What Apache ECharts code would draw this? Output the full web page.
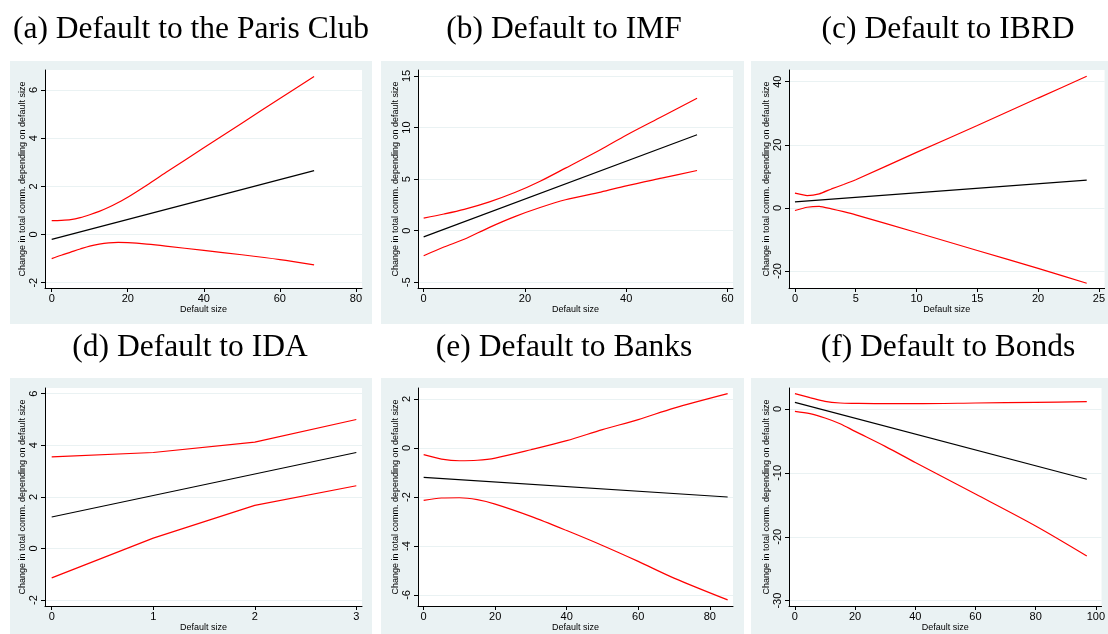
<!DOCTYPE html>
<html>
<head>
<meta charset="utf-8">
<script src="https://cdn.jsdelivr.net/npm/echarts@6/dist/echarts.min.js"></script>
<style>
html,body{margin:0;padding:0;background:#fff;}
#c{width:1108px;height:634px;}
</style>
</head>
<body>
<div id="c"></div>
<script>
// ---- Data ----
// (a) Paris Club
const parisFitX = [0, 69];
const parisFit = [-0.2, 2.65];
const parisBandX = [0, 2.5, 5, 7.5, 10, 12.5, 15, 17.5, 20, 25, 30, 40, 50, 60, 69];
const parisUpper = [0.58, 0.59, 0.62, 0.7, 0.82, 0.96, 1.13, 1.33, 1.55, 2.05, 2.57, 3.6, 4.62, 5.65, 6.56];
const parisLower = [-1.0, -0.86, -0.73, -0.6, -0.48, -0.4, -0.35, -0.33, -0.34, -0.4, -0.48, -0.66, -0.84, -1.04, -1.26];
const parisXTicks = [0, 20, 40, 60, 80];
const parisYTicks = [-2, 0, 2, 4, 6];

// (b) IMF
const imfFitX = [0, 54];
const imfFit = [-0.6, 9.3];
const imfBandX = [0, 4, 8, 13, 18, 23, 28, 35, 40, 47, 54];
const imfUpper = [1.23, 1.62, 2.07, 2.8, 3.7, 4.8, 6.07, 7.88, 9.26, 11.05, 12.84];
const imfLower = [-2.42, -1.58, -0.83, 0.33, 1.37, 2.25, 3.0, 3.75, 4.35, 5.1, 5.84];
const imfXTicks = [0, 20, 40, 60];
const imfYTicks = [-5, 0, 5, 10, 15];

// (c) IBRD
const ibrdFitX = [0, 24];
const ibrdFit = [1.9, 8.8];
const ibrdBandX = [0, 1, 2, 3, 4, 5, 10, 15, 20, 24];
const ibrdUpper = [4.66, 3.9, 4.44, 6.0, 7.4, 8.9, 17.6, 26.1, 34.8, 41.7];
const ibrdLower = [-0.85, 0.2, 0.5, -0.3, -1.2, -2.2, -7.8, -13.5, -19.2, -23.9];
const ibrdXTicks = [0, 5, 10, 15, 20, 25];
const ibrdYTicks = [-20, 0, 20, 40];

// (d) IDA
const idaFitX = [0, 3];
const idaFit = [1.22, 3.72];
const idaBandX = [0, 1, 2, 3];
const idaUpper = [3.55, 3.72, 4.12, 5.0];
const idaLower = [-1.14, 0.4, 1.67, 2.43];
const idaXTicks = [0, 1, 2, 3];
const idaYTicks = [-2, 0, 2, 4, 6];

// (e) Banks
const banksFitX = [0, 85];
const banksFit = [-1.2, -2.0];
const banksBandX = [0, 5, 10, 15, 20, 30, 40, 50, 60, 70, 85];
const banksUpper = [-0.27, -0.45, -0.52, -0.5, -0.41, -0.07, 0.3, 0.75, 1.16, 1.63, 2.22];
const banksLower = [-2.14, -2.04, -2.03, -2.11, -2.29, -2.79, -3.37, -3.98, -4.63, -5.31, -6.2];
const banksXTicks = [0, 20, 40, 60, 80];
const banksYTicks = [-6, -4, -2, 0, 2];

// (f) Bonds
const bondsFitX = [0, 97];
const bondsFit = [1.05, -11.0];
const bondsBandX = [0, 5, 10, 15, 20, 30, 40, 60, 80, 97];
const bondsUpper = [2.4, 1.78, 1.2, 0.94, 0.89, 0.84, 0.84, 0.94, 1.05, 1.15];
const bondsLower = [-0.37, -0.73, -1.41, -2.3, -3.5, -5.85, -8.36, -13.3, -18.3, -23.0];
const bondsXTicks = [0, 20, 40, 60, 80, 100];
const bondsYTicks = [-30, -20, -10, 0];

const titles = ['(a) Default to the Paris Club', '(b) Default to IMF', '(c) Default to IBRD',
                '(d) Default to IDA', '(e) Default to Banks', '(f) Default to Bonds'];
const yTitle = 'Change in total comm. depending on default size';
const xTitle = 'Default size';

// ---- Layout ----
const panels = [
  {fitX: parisFitX, fit: parisFit, bx: parisBandX, up: parisUpper, lo: parisLower, xt: parisXTicks, yt: parisYTicks,
   xr: [-1.76, 81.6], yr: [-2.22, 6.83], grid: [45, 70, 317, 218], bg: [10, 61, 362, 263], tc: [191, 14], smooth: 0.3},
  {fitX: imfFitX, fit: imfFit, bx: imfBandX, up: imfUpper, lo: imfLower, xt: imfXTicks, yt: imfYTicks,
   xr: [-1.12, 61.1], yr: [-5.55, 15.58], grid: [418, 70, 315, 218], bg: [381, 61, 363, 263], tc: [564, 14], smooth: 0.3},
  {fitX: ibrdFitX, fit: ibrdFit, bx: ibrdBandX, up: ibrdUpper, lo: ibrdLower, xt: ibrdXTicks, yt: ibrdYTicks,
   xr: [-0.49, 25.47], yr: [-25.4, 43.7], grid: [789, 70, 316, 218], bg: [751, 61, 357, 263], tc: [948, 14], smooth: 0.15},
  {fitX: idaFitX, fit: idaFit, bx: idaBandX, up: idaUpper, lo: idaLower, xt: idaXTicks, yt: idaYTicks,
   xr: [-0.066, 3.056], yr: [-2.23, 6.22], grid: [45, 388, 317, 218], bg: [10, 378, 362, 256], tc: [190, 332], smooth: false},
  {fitX: banksFitX, fit: banksFit, bx: banksBandX, up: banksUpper, lo: banksLower, xt: banksXTicks, yt: banksYTicks,
   xr: [-1.58, 86.5], yr: [-6.45, 2.45], grid: [418, 388, 315, 218], bg: [381, 378, 363, 256], tc: [564, 332], smooth: 0.3},
  {fitX: bondsFitX, fit: bondsFit, bx: bondsBandX, up: bondsUpper, lo: bondsLower, xt: bondsXTicks, yt: bondsYTicks,
   xr: [-1.97, 101.9], yr: [-30.84, 3.29], grid: [789, 388, 316, 218], bg: [751, 378, 357, 256], tc: [948, 332], smooth: 0.3}
];

const BG = '#eaf2f3';
const pairs = (xs, ys) => xs.map((x, i) => [x, ys[i]]);

const option = {
  animation: false,
  backgroundColor: '#ffffff',
  title: [],
  graphic: [],
  grid: [],
  xAxis: [],
  yAxis: [],
  series: []
};

panels.forEach((p, i) => {
  option.graphic.push({
    type: 'rect', z: -10, silent: true,
    shape: {x: p.bg[0], y: p.bg[1], width: p.bg[2], height: p.bg[3]},
    style: {fill: BG}
  });
  option.title.push({
    text: titles[i], left: p.tc[0], top: p.tc[1], textAlign: 'center', padding: 0,
    textStyle: {fontFamily: 'Liberation Serif', fontSize: 31.5, fontWeight: 'normal', color: '#000', lineHeight: 31}
  });
  option.grid.push({
    left: p.grid[0], top: p.grid[1], width: p.grid[2], height: p.grid[3],
    show: true, backgroundColor: '#ffffff', borderWidth: 0, containLabel: false
  });
  option.xAxis.push({
    type: 'value', gridIndex: i, min: p.xr[0], max: p.xr[1],
    name: xTitle, nameLocation: 'middle', nameGap: 15,
    nameTextStyle: {fontFamily: 'Liberation Sans', fontSize: 9, color: '#000'},
    axisLine: {onZero: false, lineStyle: {color: '#000', width: 1}},
    axisTick: {show: true, length: 4, lineStyle: {color: '#000'}, customValues: p.xt},
    axisLabel: {fontFamily: 'Liberation Sans', fontSize: 11, color: '#000', margin: 5, customValues: p.xt},
    splitLine: {show: false}
  });
  option.yAxis.push({
    type: 'value', gridIndex: i, min: p.yr[0], max: p.yr[1],
    name: yTitle, nameLocation: 'middle', nameGap: 15,
    nameTextStyle: {fontFamily: 'Liberation Sans', fontSize: 9, color: '#000'},
    axisLine: {onZero: false, lineStyle: {color: '#000', width: 1}},
    axisTick: {show: true, length: 4, lineStyle: {color: '#000'}, customValues: p.yt},
    axisLabel: {fontFamily: 'Liberation Sans', fontSize: 11, color: '#000', margin: 6, rotate: 90, customValues: p.yt},
    splitLine: {show: true, lineStyle: {color: BG, width: 1}}
  });
  const common = {type: 'line', xAxisIndex: i, yAxisIndex: i, showSymbol: false, symbol: 'none', silent: true};
  option.series.push(Object.assign({}, common, {
    data: pairs(p.bx, p.up), smooth: p.smooth, lineStyle: {color: '#ff0000', width: 1.2}
  }));
  option.series.push(Object.assign({}, common, {
    data: pairs(p.bx, p.lo), smooth: p.smooth, lineStyle: {color: '#ff0000', width: 1.2}
  }));
  option.series.push(Object.assign({}, common, {
    data: pairs(p.fitX, p.fit), lineStyle: {color: '#000000', width: 1.2}
  }));
});

const chart = echarts.init(document.getElementById('c'), null, {renderer: 'canvas'});
chart.setOption(option);
</script>
</body>
</html>
